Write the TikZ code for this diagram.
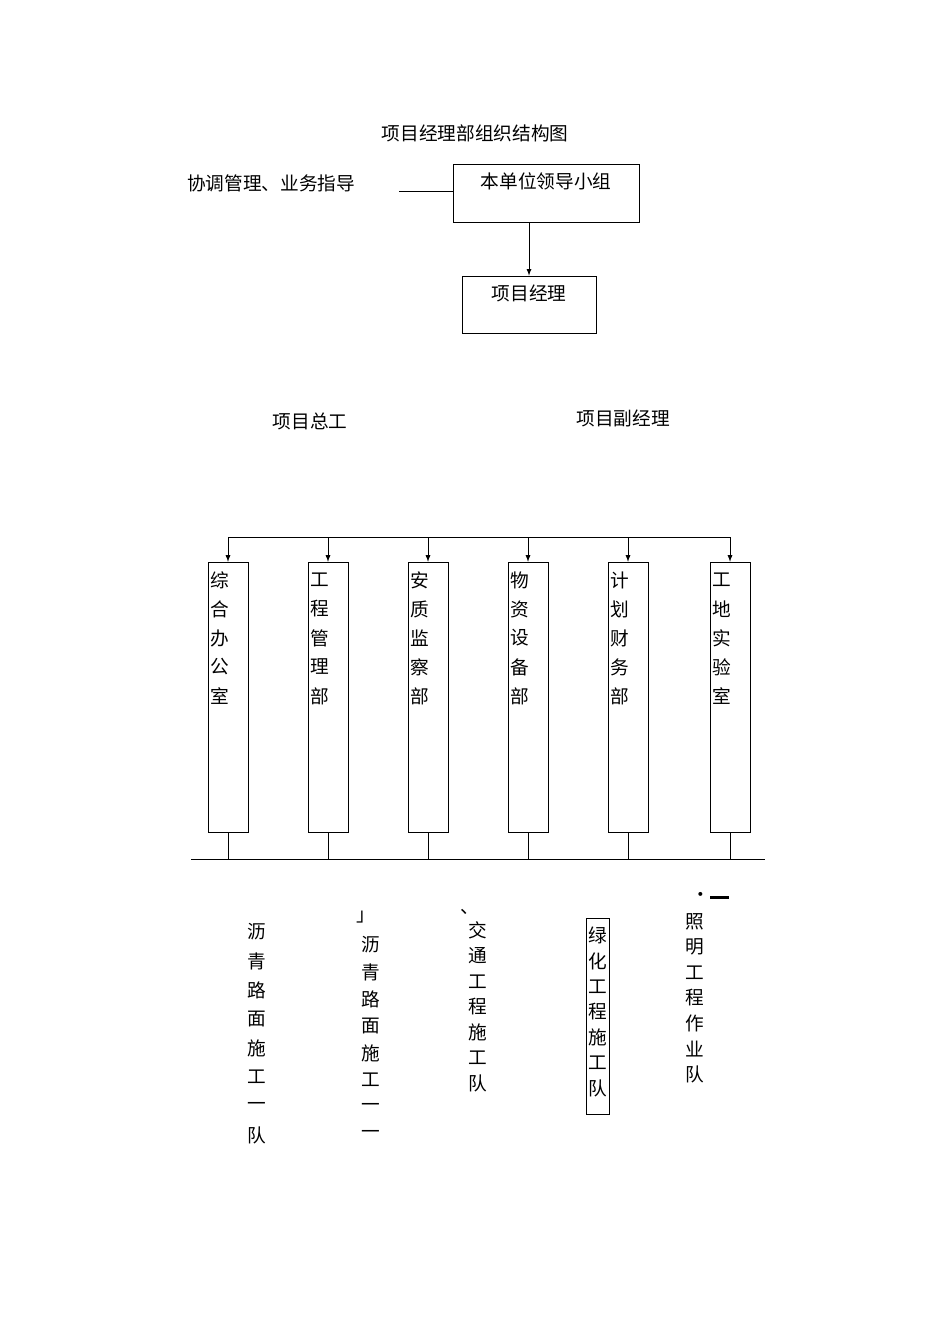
\documentclass[tikz,border=0pt]{standalone}
\usepackage{fontspec}
\setmainfont{Noto Sans CJK SC}
\begin{document}
\begin{tikzpicture}[x=0.75pt,y=-0.75pt,font=\fontsize{14}{16}\selectfont,
  box/.style={draw,line width=0.6pt,inner sep=0},
  lab/.style={inner sep=0,anchor=center},
  arr/.style={-latex,line width=0.7pt},
  ln/.style={line width=0.7pt}]
\useasboundingbox (0,0) rectangle (950,1344);
\node[lab] (title) at (475,133) {项目经理部组织结构图};
\node[lab] (coord) at (271,183) {协调管理、业务指导};
\node[box,minimum width=139pt,minimum height=43.5pt] (lead) at (546.5,193) {};
\node[lab] at (546,181) {本单位领导小组};
\coordinate (lst) at (399,191);
\draw[ln] (lst) -- (lead.west |- lst);
\node[box,minimum width=100.5pt,minimum height=42.75pt] (pm) at (529,304.5) {};
\node[lab] at (529,293) {项目经理};
\draw[arr] (lead.south -| pm.north) -- (pm.north);
\node[lab] (zg) at (310,421) {项目总工};
\node[lab] (fj) at (623,418) {项目副经理};
\coordinate (tl) at (228,537); \coordinate (tr) at (730,537);
\draw[ln] (tl) -- (tr);
\coordinate (bl) at (191,859); \coordinate (br) at (765,859);
\draw[ln] (bl) -- (br);
\foreach \x/\t/\n in {228/{综,合,办,公,室}/a,328/{工,程,管,理,部}/b,428/{安,质,监,察,部}/c,528/{物,资,设,备,部}/d,628/{计,划,财,务,部}/e,730/{工,地,实,验,室}/f}{
  \node[box,minimum width=30pt,minimum height=203pt] (\n) at (\x,697.5) {};
  \coordinate (\n t) at (\x,537);
  \draw[arr] (\n t) -- (\n.north);
  \draw[ln] (\n.south) -- (\n.south |- bl);
  \foreach \c [count=\i] in \t { \node[lab] at (\x-8,551+29*\i) {\c}; }
}
\foreach \c [count=\i] in {沥,青,路,面,施,工,一,队} { \node[lab] at (257,903+29*\i) {\c}; }
\node[lab] at (366,917) {」};
\foreach \c [count=\i] in {沥,青,路,面,施,工,一,一} { \node[lab] at (371,918+27*\i) {\c}; }
\node[lab] at (470,912) {、};
\foreach \c [count=\i] in {交,通,工,程,施,工,队} { \node[lab] at (478,905+25.5*\i) {\c}; }
\node[draw,line width=0.5pt,minimum width=17pt,minimum height=147pt,inner sep=0] (lh) at (597.5,1016.5) {};
\foreach \c [count=\i] in {绿,化,工,程,施,工,队} { \node[lab] at (598,910+25.5*\i) {\c}; }
\node[lab] at (710,897) {·\rule[0.3ex]{14pt}{2pt}};
\foreach \c [count=\i] in {照,明,工,程,作,业,队} { \node[lab] at (695,896+25.5*\i) {\c}; }
\end{tikzpicture}
\end{document}
